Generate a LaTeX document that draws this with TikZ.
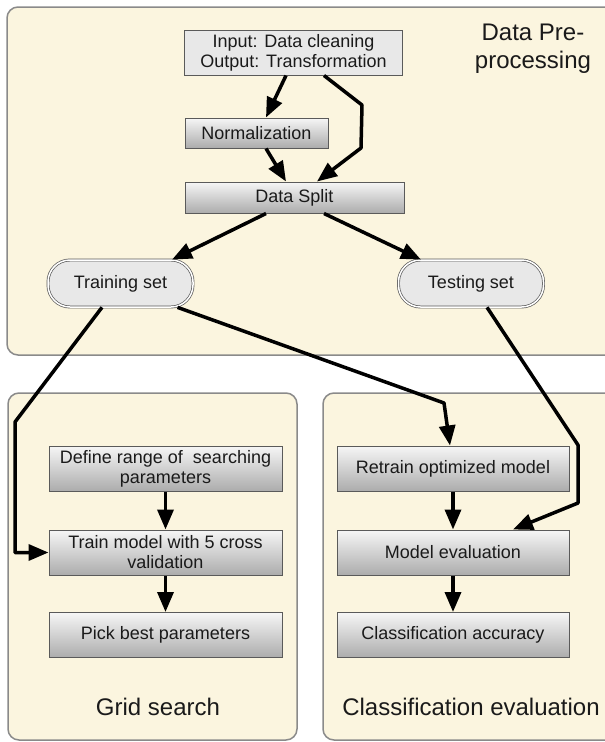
\documentclass[tikz,border=0pt]{standalone}
\usepackage{fontspec}
\setmainfont{Liberation Sans}
\usepackage{tikz}
\usepackage{xcolor}
\usetikzlibrary{arrows.meta, calc}
\definecolor{PanelCream}{HTML}{FBF5DF}
\definecolor{PanelEdge}{HTML}{8A8A8A}
\definecolor{BoxEdge}{HTML}{5A5A5A}
\definecolor{BoxLight}{HTML}{F6F6F6}
\definecolor{BoxDark}{HTML}{ACACAC}
\definecolor{BoxFlat}{HTML}{E8E8E8}
\definecolor{TextDark}{HTML}{1A1A1A}
\tikzset{
    % Panel styles
    panel/.style={
        draw=PanelEdge,
        fill=PanelCream,
        line width=1.5pt,
        rounded corners=11pt
    },
    paneltitle/.style={
        align=center,
        text=TextDark,
        font=\fontsize{24}{28}\selectfont
    },
    % Node styles
    flatbox/.style={
        rectangle,
        draw=BoxEdge,
        fill=BoxFlat,
        line width=1pt,
        inner sep=0pt,
        align=center,
        text=TextDark,
        font=\fontsize{18}{20}\selectfont
    },
    stepbox/.style={
        rectangle,
        draw=BoxEdge,
        top color=BoxLight,
        bottom color=BoxDark,
        line width=1pt,
        inner sep=0pt,
        align=center,
        text=TextDark,
        font=\fontsize{18}{20}\selectfont
    },
    setbox/.style={
        rectangle,
        rounded corners=22pt,
        draw=BoxEdge,
        double=white,
        double distance=1.5pt,
        fill=BoxFlat,
        line width=0.7pt,
        inner sep=0pt,
        minimum width=145pt,
        minimum height=47pt,
        text=TextDark,
        font=\fontsize{18}{20}\selectfont
    },
    % Arrow styles
    flow/.style={
        -{Triangle[length=20pt,width=16pt]},
        line width=3.5pt,
        line join=round,
        black
    }
}
\begin{document}
\begin{tikzpicture}[x=1pt, y=-1pt]
    \useasboundingbox (0,0) rectangle (605,742);
    \clip (0,0) rectangle (605,742);

    % Panels
    \draw[panel] (7,7) rectangle (625,355);
    \draw[panel] (8,393) rectangle (297,740);
    \draw[panel] (323,393) rectangle (625,740);

    \node[paneltitle] (pretitle) at (533,49) {Data Pre-\\processing};
    \node[paneltitle] (gridtitle) at (158,707) {Grid search};
    \node[paneltitle] (evaltitle) at (471,707) {Classification evaluation};

    % Pre-processing
    \node[flatbox, minimum width=218pt, minimum height=45pt] (input) at (293.5,52.5) {Input: Data cleaning\\Output: Transformation};
    \node[stepbox, minimum width=143pt, minimum height=30pt] (norm) at (256.5,133) {Normalization};
    \node[stepbox, minimum width=219pt, minimum height=31pt] (split) at (294.5,197.5) {Data Split};
    \node[setbox] (trainset) at (120.5,283.5) {Training set};
    \node[setbox] (testset) at (471,283.5) {Testing set};

    % Grid search
    \node[stepbox, minimum width=233pt, minimum height=45pt] (define) at (165.5,468.5) {Define range of\ \ searching\\parameters};
    \node[stepbox, minimum width=233pt, minimum height=45pt] (trainmodel) at (165.5,552.5) {Train model with 5 cross\\validation};
    \node[stepbox, minimum width=233pt, minimum height=45pt] (pick) at (165.5,635) {Pick best parameters};

    % Classification evaluation
    \node[stepbox, minimum width=232pt, minimum height=45pt] (retrain) at (453,468.5) {Retrain optimized model};
    \node[stepbox, minimum width=232pt, minimum height=45pt] (modeleval) at (453,552.5) {Model evaluation};
    \node[stepbox, minimum width=232pt, minimum height=45pt] (accuracy) at (453,635) {Classification accuracy};

    % Bend points
    \coordinate (bendtop) at (362,105);
    \coordinate (bendlow) at (361,148);
    \coordinate (leftdrop) at (15,422);
    \coordinate (retrainbend) at (444,403);
    \coordinate (rightdrop) at (578,445);
    \coordinate (rightlow) at (578,503);

    % Connectors
    \draw[flow] ([xshift=-7.5pt]input.south) -- ([xshift=9.5pt]norm.north);
    \draw[flow] ([xshift=30.5pt]input.south) -- (bendtop) -- (bendlow) -- ([xshift=22.5pt]split.north);
    \draw[flow] ([xshift=9.5pt]norm.south) -- ([xshift=-8.5pt]split.north);
    \draw[flow] ([xshift=-28.5pt]split.south) -- ([xshift=51.5pt]trainset.north);
    \draw[flow] ([xshift=29.5pt]split.south) -- ([xshift=-50pt]testset.north);

    \draw[flow] ([xshift=-18.5pt]trainset.south) -- (leftdrop) -- (leftdrop |- trainmodel.west) -- (trainmodel.west);
    \draw[flow] ([xshift=57pt]trainset.south) -- (retrainbend) -- ([xshift=-3pt]retrain.north);
    \draw[flow] ([xshift=16pt]testset.south) -- (rightdrop) -- (rightlow) -- ([xshift=60pt]modeleval.north);

    \draw[flow] (define) -- (trainmodel);
    \draw[flow] (trainmodel) -- (pick);
    \draw[flow] (retrain) -- (modeleval);
    \draw[flow] (modeleval) -- (accuracy);
\end{tikzpicture}
\end{document}
